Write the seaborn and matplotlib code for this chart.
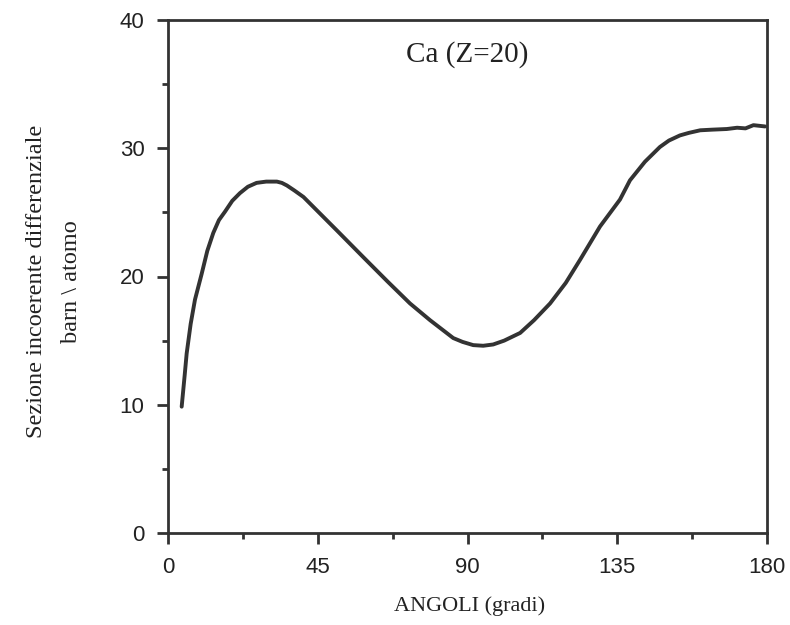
import matplotlib
matplotlib.use("Agg")
import matplotlib.pyplot as plt
import seaborn as sns
import pandas as pd
from matplotlib.ticker import MultipleLocator

angles = [4.1, 5.0, 5.6, 6.8, 8.1, 10.1, 11.8, 13.6, 15.3, 17.1, 19.3, 21.6,
          24.0, 26.6, 29.5, 32.7, 34.2, 35.7, 38.0, 40.7, 45.7,
          50.7, 58.7, 66.0, 72.7, 78.7, 85.7, 88.5, 91.7, 94.7, 97.7, 101.0,
          105.8, 110.0, 114.8, 119.5, 123.8, 129.8, 135.8, 138.8, 143.3, 147.8,
          150.5, 153.8, 156.5, 159.9, 163.5, 167.9, 171.0, 173.5, 175.9, 179.4]
sigma = [9.85, 12.3, 14.0, 16.3, 18.2, 20.2, 22.0, 23.4, 24.4, 25.05, 25.9, 26.5,
         27.0, 27.3, 27.4, 27.4, 27.3, 27.1, 26.7, 26.2, 24.9,
         23.6, 21.5, 19.6, 17.9, 16.6, 15.2, 14.9, 14.65, 14.6, 14.7, 15.0,
         15.6, 16.6, 17.9, 19.5, 21.3, 23.9, 26.0, 27.5, 28.95, 30.1,
         30.6, 31.0, 31.2, 31.4, 31.45, 31.5, 31.6, 31.55, 31.8, 31.7]

x_ticks = [0, 45, 90, 135, 180]
y_ticks = [0, 10, 20, 30, 40]

df = pd.DataFrame({"angle": angles, "sigma": sigma})

sns.set_style("ticks")
plt.rcParams["font.family"] = ["Liberation Sans", "DejaVu Sans"]

ink = "#333333"
txt = "#222222"
fig = plt.figure(figsize=(7.9, 6.25), dpi=100)
ax = fig.add_axes([0.2127, 0.1472, 0.971 - 0.2127, 0.968 - 0.1472])

sns.lineplot(data=df, x="angle", y="sigma", ax=ax, color=ink, linewidth=2.8,
             estimator=None, sort=False)

ax.set_xlim(0, 180)
ax.set_ylim(0, 40)
ax.set_xticks(x_ticks)
ax.set_yticks(y_ticks)
ax.set_xticklabels([str(t) for t in x_ticks])
ax.set_yticklabels([str(t) for t in y_ticks])
ax.xaxis.set_minor_locator(MultipleLocator(22.5))
ax.yaxis.set_minor_locator(MultipleLocator(5))

for s in ax.spines.values():
    s.set_visible(True)
    s.set_linewidth(2.0)
    s.set_color(ink)

ax.tick_params(axis="both", which="major", direction="out", length=8, width=2,
               color=ink, labelsize=16, labelcolor=txt, pad=9)
ax.tick_params(axis="both", which="minor", direction="out", length=4, width=2,
               color=ink)

serif = ["Liberation Serif", "DejaVu Serif"]
ax.set_xlabel("")
ax.set_ylabel("")
ax.text(0.504, -0.142, "ANGOLI (gradi)", transform=ax.transAxes, fontfamily=serif,
        fontsize=16, color=txt, ha="center", va="center")
ax.text(-0.19, 0.49, "Sezione incoerente differenziale\nbarn \\ atomo",
        transform=ax.transAxes, fontfamily=serif, fontsize=17.5, color=txt,
        ha="center", va="center", rotation=90, linespacing=1.85,
        multialignment="center")
ax.text(89.8, 37.27, "Ca (Z=20)", fontfamily=serif, fontsize=21, color=txt,
        ha="center", va="center")

fig.savefig("out.png", dpi=100, facecolor="white")
